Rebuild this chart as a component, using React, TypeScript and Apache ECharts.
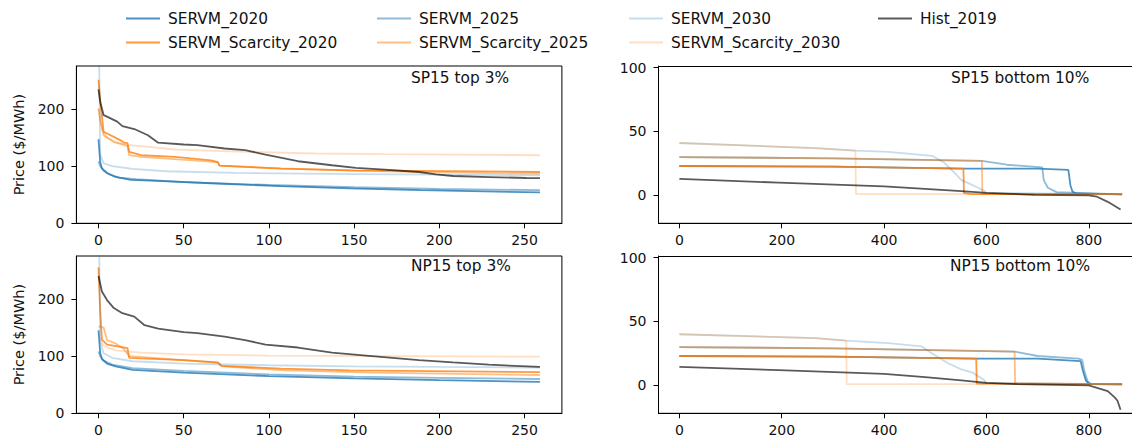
import React, { useEffect, useRef } from "react";
import * as echarts from "echarts";

// ---------- data (x = hour rank, y = price $/MWh) ----------
const SERIES_NAMES = [
  "SERVM_2020",
  "SERVM_Scarcity_2020",
  "SERVM_2025",
  "SERVM_Scarcity_2025",
  "SERVM_2030",
  "SERVM_Scarcity_2030",
  "Hist_2019",
];
const SERIES_COLORS = [
  "rgba(31,119,180,0.8)",
  "rgba(255,127,14,0.8)",
  "rgba(31,119,180,0.5)",
  "rgba(255,127,14,0.5)",
  "rgba(31,119,180,0.25)",
  "rgba(255,127,14,0.25)",
  "rgba(0,0,0,0.65)",
];

const topTicksX = [0, 50, 100, 150, 200, 250];
const topTicksY = [0, 100, 200];
const bottomTicksX = [0, 200, 400, 600, 800];
const bottomTicksY = [0, 50, 100];

// SP15 top 3%
const sp15Top_SERVM_2020 = [[0,147],[1,107],[2,96],[5,88],[10,81],[19,76],[35,74],[66,70],[107,65],[148,61],[189,58],[259,54]];
const sp15Top_Scarcity_2020 = [[0,251],[1,215],[3,160],[5,157],[9,151],[13,145],[15,141],[17,140],[18,125],[25,119],[45,116],[66,110],[70,107],[71,101],[86,98.5],[107,95.6],[148,92.7],[259,89.7]];
const sp15Top_SERVM_2025 = [[0,108],[1,100],[3,92],[6,86],[12,80],[22,77],[50,72],[100,67],[150,63],[200,60],[259,58]];
const sp15Top_Scarcity_2025 = [[0,201],[1,180],[3,154],[9,142],[15,137],[17,135],[18,119],[25,116],[70,107],[71,101],[107,96],[150,92],[200,89],[259,86.8]];
const sp15Top_SERVM_2030 = [[0,400],[1,120],[3,105],[8,100],[20,95],[40,91],[80,88],[150,86],[200,85],[259,84]];
const sp15Top_Scarcity_2030 = [[0,200],[2,165],[5,150],[10,142],[17,137],[45,129],[86,125],[127,122],[168,121],[259,119]];
const sp15Top_Hist_2019 = [[0,234],[1,212],[3,189],[5,186.5],[11,177.7],[14,170],[21,164.8],[29,154],[35,141],[50,137.8],[58,136.7],[74,130.8],[86,127.9],[98,120.2],[117,108.5],[137,101.5],[151,96.8],[168,93.8],[188,89.7],[198,85.6],[208,82.7],[229,80.9],[251,79.2],[259,79]];

// NP15 top 3%
const np15Top_SERVM_2020 = [[0,145],[1,105],[2,95],[5,87],[10,82],[20,76],[50,71],[100,65],[150,61],[200,58],[259,55]];
const np15Top_Scarcity_2020 = [[0,255],[1,180],[2,129],[5,120],[13,116],[17,114],[18,97],[25,96],[50,93],[70,89],[72,83],[107,78],[147,75],[259,72]];
const np15Top_SERVM_2025 = [[0,108],[1,100],[3,92],[8,85],[20,79],[50,74],[100,68],[150,64],[200,62],[259,60]];
const np15Top_Scarcity_2025 = [[0,152],[3,150],[5,128],[10,122],[15,112],[18,100],[40,95],[70,88],[73,82],[110,75],[160,71],[259,67]];
const np15Top_SERVM_2030 = [[0,400],[1,125],[3,105],[8,97],[20,91],[50,87],[100,84],[150,82],[200,81],[259,80]];
const np15Top_Scarcity_2030 = [[0,135],[3,118],[10,110],[25,106],[50,103],[100,101],[259,99]];
const np15Top_Hist_2019 = [[0,240],[2,213],[5,198],[9,184],[14,175],[21,169],[27,154],[35,148],[50,142],[58,140],[74,134],[86,128],[98,120],[117,115],[137,106],[157,101],[188,93],[208,89],[229,85],[259,81]];

// SP15 bottom 10%
const sp15Bot_SERVM_2020 = [[0,23],[300,22.5],[555,21],[700,21],[760,20],[764,8],[768,3],[775,1.5],[865,0.8]];
const sp15Bot_Scarcity_2020 = [[0,23],[300,22.5],[555,21],[556,2],[570,1],[865,1]];
const sp15Bot_SERVM_2025 = [[0,30],[300,29],[591,27],[640,24],[709,22],[712,12],[720,6],[737,2.6],[865,0.8]];
const sp15Bot_Scarcity_2025 = [[0,30],[300,29],[591,27],[592,1],[865,1]];
const sp15Bot_SERVM_2030 = [[0,41],[265,37],[344,35],[408,34],[494,31],[516,26],[537,18],[551,12],[573,8],[594,4],[600,2],[865,0.8]];
const sp15Bot_Scarcity_2030 = [[0,41],[265,37],[344,35],[345,1],[865,1]];
const sp15Bot_Hist_2019 = [[0,13],[194,10],[400,7],[551,3.4],[600,2],[694,0.5],[800,0],[816,-1],[837,-5],[862,-11]];

// NP15 bottom 10%
const np15Bot_SERVM_2020 = [[0,23],[300,22.5],[580,21],[700,21],[784,19],[788,12],[794,4],[801,1],[865,0.8]];
const np15Bot_Scarcity_2020 = [[0,23],[300,22.5],[580,21],[581,1.5],[865,1]];
const np15Bot_SERVM_2025 = [[0,30],[300,29],[655,26.5],[700,23],[780,21],[787,20],[792,10],[798,3],[805,1],[865,0.8]];
const np15Bot_Scarcity_2025 = [[0,30],[300,29],[655,26.5],[656,1.5],[865,1]];
const np15Bot_SERVM_2030 = [[0,40],[266,37],[326,35],[408,33],[473,30.6],[494,25],[523,17.7],[551,12.5],[573,10],[594,4.7],[600,2],[865,0.8]];
const np15Bot_Scarcity_2030 = [[0,40],[266,37],[326,35],[327,1],[865,1]];
const np15Bot_Hist_2019 = [[0,14.5],[194,12],[400,9],[480,6.5],[551,4],[600,2],[658,1],[800,0],[808,-1],[837,-4.5],[851,-9.6],[856,-12],[862,-19]];

const PANEL_TITLES = ["SP15 top 3%", "SP15 bottom 10%", "NP15 top 3%", "NP15 bottom 10%"];
const PANEL_DATA = [
  [sp15Top_SERVM_2020, sp15Top_Scarcity_2020, sp15Top_SERVM_2025, sp15Top_Scarcity_2025, sp15Top_SERVM_2030, sp15Top_Scarcity_2030, sp15Top_Hist_2019],
  [sp15Bot_SERVM_2020, sp15Bot_Scarcity_2020, sp15Bot_SERVM_2025, sp15Bot_Scarcity_2025, sp15Bot_SERVM_2030, sp15Bot_Scarcity_2030, sp15Bot_Hist_2019],
  [np15Top_SERVM_2020, np15Top_Scarcity_2020, np15Top_SERVM_2025, np15Top_Scarcity_2025, np15Top_SERVM_2030, np15Top_Scarcity_2030, np15Top_Hist_2019],
  [np15Bot_SERVM_2020, np15Bot_Scarcity_2020, np15Bot_SERVM_2025, np15Bot_Scarcity_2025, np15Bot_SERVM_2030, np15Bot_Scarcity_2030, np15Bot_Hist_2019],
];

const FONT = "DejaVu Sans";

export default function App() {
  const ref = useRef<HTMLDivElement>(null);
  useEffect(() => {
    if (!ref.current) return;
    const chart = echarts.init(ref.current, undefined, { renderer: "svg" });

    const gridH = 157.3;
    const rightLeft = 658.5;
    const rightW = 473;
    const rows = [66, 256];
    // right-hand panels are cut by the picture's right edge, as in the reference
    const grids = [
      { left: 76.4, top: rows[0], width: 485.5, height: gridH, show: true },
      { left: rightLeft, top: rows[0], width: rightW, height: gridH, show: false },
      { left: 76.4, top: rows[1], width: 485.5, height: gridH, show: true },
      { left: rightLeft, top: rows[1], width: rightW, height: gridH, show: false },
    ].map((g) => ({
      ...g,
      borderColor: "#000",
      borderWidth: 1,
      backgroundColor: "transparent",
      containLabel: false,
      outerBoundsMode: "none",
    }));

    const labelStyle = { fontFamily: FONT, fontSize: 14, color: "#111" };
    const tickStyle = { show: true, inside: false, length: 5, lineStyle: { color: "#000", width: 1 } };
    const lineStyleAxis = { show: true, onZero: false, lineStyle: { color: "#000", width: 1 } };

    const xRange = (i: number) => (i % 2 === 0 ? [-12.97, 271.9] : [-40.8, -40.8 + rightW / 0.5118]);
    const xAxes: any[] = [0, 1, 2, 3].map((i) => {
      const isTop = i % 2 === 0;
      return {
        type: "value",
        gridIndex: i,
        position: "bottom",
        min: xRange(i)[0],
        max: xRange(i)[1],
        axisLine: lineStyleAxis,
        splitLine: { show: false },
        axisTick: { ...tickStyle, customValues: isTop ? topTicksX : bottomTicksX },
        axisLabel: { ...labelStyle, margin: 10, customValues: isTop ? topTicksX : bottomTicksX },
      };
    });
    const yAxes = [0, 1, 2, 3].map((i) => {
      const isTop = i % 2 === 0;
      return {
        type: "value",
        gridIndex: i,
        position: "left",
        min: isTop ? 0 : -21.8,
        max: isTop ? 275 : 101.2,
        axisLine: lineStyleAxis,
        splitLine: { show: false },
        axisTick: { ...tickStyle, customValues: isTop ? topTicksY : bottomTicksY },
        axisLabel: { ...labelStyle, margin: 12, customValues: isTop ? topTicksY : bottomTicksY },
        name: isTop ? "Price ($/MWh)" : "",
        nameLocation: "middle",
        nameGap: 50,
        nameRotate: 90,
        nameTextStyle: { fontFamily: FONT, fontSize: 14.5, color: "#111" },
      };
    });

    const series: any[] = [];
    PANEL_DATA.forEach((panel, pi) => {
      panel.forEach((data, si) => {
        series.push({
          id: `p${pi}_s${si}`,
          name: SERIES_NAMES[si],
          type: "line",
          xAxisIndex: pi,
          yAxisIndex: pi,
          data,
          symbol: "none",
          showSymbol: false,
          clip: true,
          silent: true,
          lineStyle: { color: SERIES_COLORS[si], width: 1.8 },
          itemStyle: { color: SERIES_COLORS[si] },
          z: 2 + si,
        });
      });
    });

    const legendBase = {
      orient: "vertical",
      top: 6,
      itemGap: 9,
      itemWidth: 34,
      itemHeight: 2.2,
      icon: "rect",
      selectedMode: false,
      textStyle: { fontFamily: FONT, fontSize: 15.4, color: "#111", padding: [0, 0, 0, 3] },
    };
    const legend = [
      { ...legendBase, left: 121, data: [SERIES_NAMES[0], SERIES_NAMES[1]] },
      { ...legendBase, left: 372, data: [SERIES_NAMES[2], SERIES_NAMES[3]] },
      { ...legendBase, left: 624, data: [SERIES_NAMES[4], SERIES_NAMES[5]] },
      { ...legendBase, left: 873, data: [SERIES_NAMES[6]] },
    ];

    const titlePos = [
      [411, 78.3],
      [951, 78.3],
      [411, 265.7],
      [950, 265.7],
    ];
    const graphic: any[] = PANEL_TITLES.map((t, i) => ({
      type: "text",
      x: titlePos[i][0],
      y: titlePos[i][1],
      silent: true,
      style: {
        text: t,
        fontFamily: FONT,
        fontSize: 15.4,
        fill: "#111",
        textAlign: "left",
        textVerticalAlign: "middle",
      },
    }));
    // top and bottom frame edges of the right-hand panels (running off the picture)
    rows.forEach((top) => {
      [top + 0.5, top + gridH].forEach((yy) => {
        graphic.push({
          type: "line",
          silent: true,
          shape: { x1: rightLeft, y1: yy, x2: 1132, y2: yy },
          style: { stroke: "#000", lineWidth: 1 },
          z: 10,
        });
      });
    });

    chart.setOption({
      animation: false,
      backgroundColor: "#fff",
      grid: grids,
      xAxis: xAxes,
      yAxis: yAxes,
      legend,
      series,
      graphic,
    });
    return () => chart.dispose();
  }, []);

  return (
    <div
      ref={ref}
      style={{ position: "fixed", left: 0, top: 0, width: 1132, height: 438, background: "#fff" }}
    />
  );
}
